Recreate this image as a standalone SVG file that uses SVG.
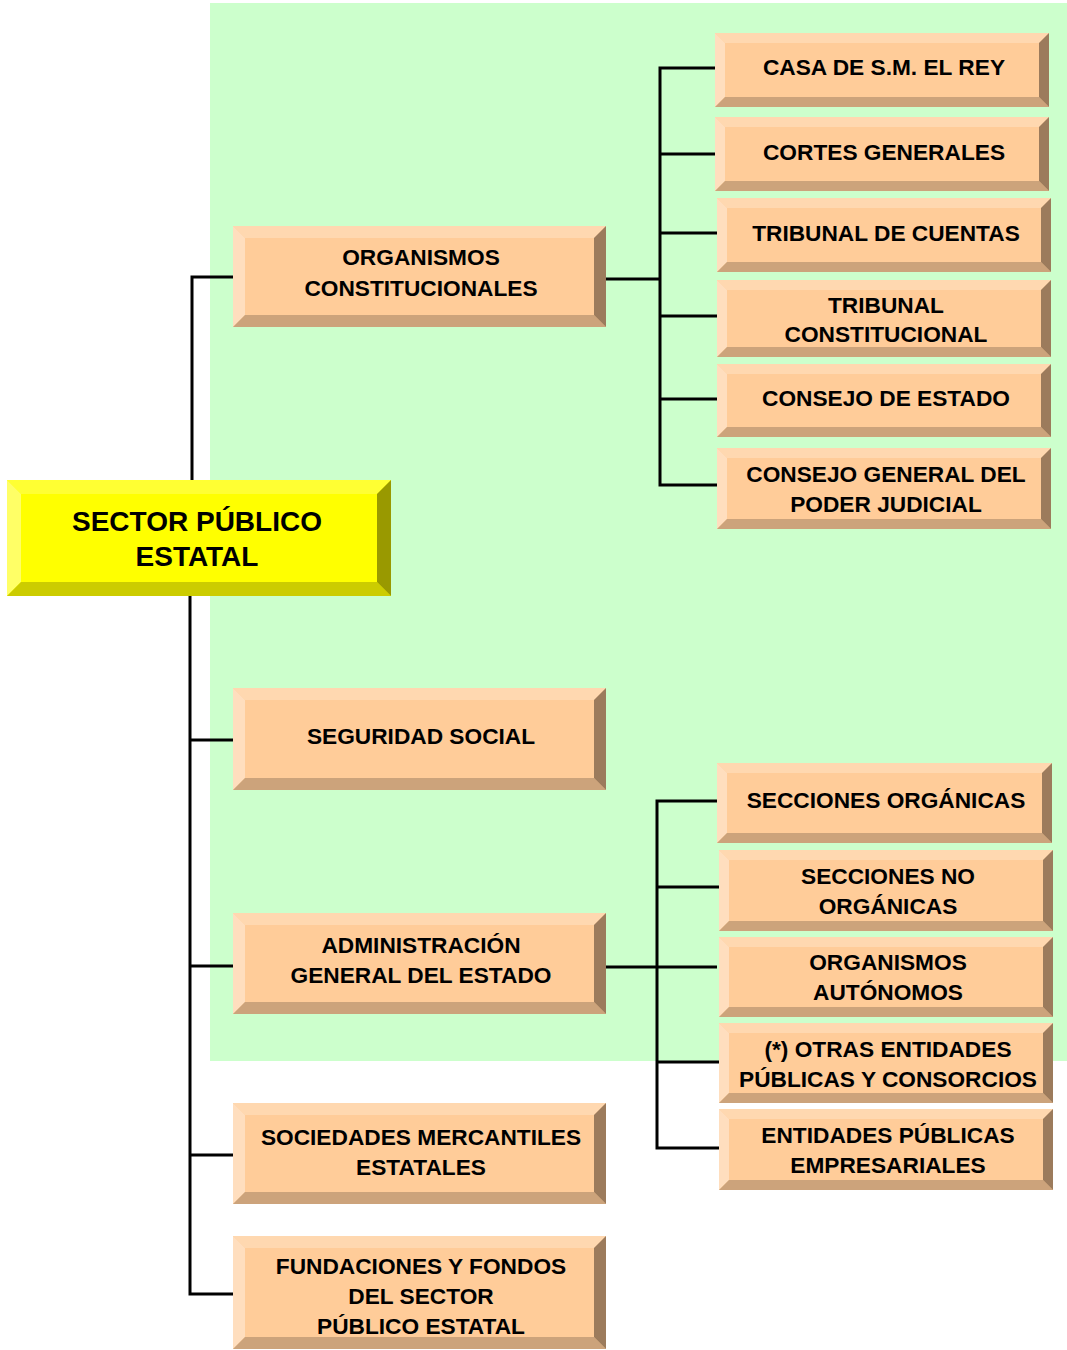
<svg xmlns="http://www.w3.org/2000/svg" width="1067" height="1350" viewBox="0 0 1067 1350">
<style>
.bg{fill:#CCFFCC}
.c{fill:none;stroke:#000;stroke-width:3;stroke-linejoin:miter}
.of{fill:#FFCC99}.ot{fill:#FFD8B0}.ol{fill:#FFDEBE}.ob{fill:#CCA37B}.or{fill:#9C7B5C}
.yf{fill:#FFFF00}.yt{fill:#FFFF33}.yl{fill:#FFFF66}.yb{fill:#CCCC00}.yr{fill:#999900}
text{font-family:"Liberation Sans",Arial,sans-serif;font-weight:bold;fill:#000;text-anchor:middle}
.s{font-size:22.7px}.m{font-size:28px}
</style>
<rect class="bg" x="210" y="3" width="857" height="1058"/>
<g id="connectors">
<path class="c" d="M233,277 H192 V480"/>
<path class="c" d="M190,596 V1294 H233"/>
<path class="c" d="M190,740 H233"/>
<path class="c" d="M190,966 H233"/>
<path class="c" d="M190,1155 H233"/>
<path class="c" d="M606,279 H660"/>
<path class="c" d="M715,68 H660 V485 H717"/>
<path class="c" d="M660,154 H715 M660,233 H717 M660,316 H717 M660,399 H717"/>
<path class="c" d="M606,967 H717"/>
<path class="c" d="M717,801 H657 V1148 H719"/>
<path class="c" d="M657,887 H719 M657,1062 H719"/>
</g>
<g id="main">
<rect class="yf" x="7" y="480" width="384" height="116"/>
<polygon class="yt" points="7,480 391,480 377,494 21,494"/>
<polygon class="yl" points="7,480 21,494 21,582 7,596"/>
<polygon class="yb" points="7,596 21,582 377,582 391,596"/>
<polygon class="yr" points="391,480 391,596 377,582 377,494"/>
<text class="m" x="197" y="531">SECTOR PÚBLICO</text>
<text class="m" x="197" y="566">ESTATAL</text>
</g>
<g id="organismos-constitucionales">
<rect class="of" x="233" y="226" width="373" height="101"/>
<polygon class="ot" points="233,226 606,226 594,238 245,238"/>
<polygon class="ol" points="233,226 245,238 245,315 233,327"/>
<polygon class="ob" points="233,327 245,315 594,315 606,327"/>
<polygon class="or" points="606,226 606,327 594,315 594,238"/>
<text class="s" x="421" y="265">ORGANISMOS</text>
<text class="s" x="421" y="296">CONSTITUCIONALES</text>
</g>
<g id="seguridad-social">
<rect class="of" x="233" y="688" width="373" height="102"/>
<polygon class="ot" points="233,688 606,688 594,700 245,700"/>
<polygon class="ol" points="233,688 245,700 245,778 233,790"/>
<polygon class="ob" points="233,790 245,778 594,778 606,790"/>
<polygon class="or" points="606,688 606,790 594,778 594,700"/>
<text class="s" x="421" y="744">SEGURIDAD SOCIAL</text>
</g>
<g id="administracion">
<rect class="of" x="233" y="913" width="373" height="101"/>
<polygon class="ot" points="233,913 606,913 594,925 245,925"/>
<polygon class="ol" points="233,913 245,925 245,1002 233,1014"/>
<polygon class="ob" points="233,1014 245,1002 594,1002 606,1014"/>
<polygon class="or" points="606,913 606,1014 594,1002 594,925"/>
<text class="s" x="421" y="953">ADMINISTRACIÓN</text>
<text class="s" x="421" y="983">GENERAL DEL ESTADO</text>
</g>
<g id="sociedades">
<rect class="of" x="233" y="1103" width="373" height="101"/>
<polygon class="ot" points="233,1103 606,1103 594,1115 245,1115"/>
<polygon class="ol" points="233,1103 245,1115 245,1192 233,1204"/>
<polygon class="ob" points="233,1204 245,1192 594,1192 606,1204"/>
<polygon class="or" points="606,1103 606,1204 594,1192 594,1115"/>
<text class="s" x="421" y="1145">SOCIEDADES MERCANTILES</text>
<text class="s" x="421" y="1175">ESTATALES</text>
</g>
<g id="fundaciones">
<rect class="of" x="233" y="1236" width="373" height="113"/>
<polygon class="ot" points="233,1236 606,1236 594,1248 245,1248"/>
<polygon class="ol" points="233,1236 245,1248 245,1337 233,1349"/>
<polygon class="ob" points="233,1349 245,1337 594,1337 606,1349"/>
<polygon class="or" points="606,1236 606,1349 594,1337 594,1248"/>
<text class="s" x="421" y="1274">FUNDACIONES Y FONDOS</text>
<text class="s" x="421" y="1304">DEL SECTOR</text>
<text class="s" x="421" y="1334">PÚBLICO ESTATAL</text>
</g>
<g id="casa-rey">
<rect class="of" x="715" y="33" width="334" height="74"/>
<polygon class="ot" points="715,33 1049,33 1039,43 725,43"/>
<polygon class="ol" points="715,33 725,43 725,97 715,107"/>
<polygon class="ob" points="715,107 725,97 1039,97 1049,107"/>
<polygon class="or" points="1049,33 1049,107 1039,97 1039,43"/>
<text class="s" x="884" y="75">CASA DE S.M. EL REY</text>
</g>
<g id="cortes-generales">
<rect class="of" x="715" y="117" width="334" height="74"/>
<polygon class="ot" points="715,117 1049,117 1039,127 725,127"/>
<polygon class="ol" points="715,117 725,127 725,181 715,191"/>
<polygon class="ob" points="715,191 725,181 1039,181 1049,191"/>
<polygon class="or" points="1049,117 1049,191 1039,181 1039,127"/>
<text class="s" x="884" y="160">CORTES GENERALES</text>
</g>
<g id="tribunal-cuentas">
<rect class="of" x="717" y="198" width="334" height="74"/>
<polygon class="ot" points="717,198 1051,198 1041,208 727,208"/>
<polygon class="ol" points="717,198 727,208 727,262 717,272"/>
<polygon class="ob" points="717,272 727,262 1041,262 1051,272"/>
<polygon class="or" points="1051,198 1051,272 1041,262 1041,208"/>
<text class="s" x="886" y="241">TRIBUNAL DE CUENTAS</text>
</g>
<g id="tribunal-constitucional">
<rect class="of" x="717" y="280" width="334" height="77"/>
<polygon class="ot" points="717,280 1051,280 1041,290 727,290"/>
<polygon class="ol" points="717,280 727,290 727,347 717,357"/>
<polygon class="ob" points="717,357 727,347 1041,347 1051,357"/>
<polygon class="or" points="1051,280 1051,357 1041,347 1041,290"/>
<text class="s" x="886" y="313">TRIBUNAL</text>
<text class="s" x="886" y="342">CONSTITUCIONAL</text>
</g>
<g id="consejo-estado">
<rect class="of" x="717" y="364" width="334" height="73"/>
<polygon class="ot" points="717,364 1051,364 1041,374 727,374"/>
<polygon class="ol" points="717,364 727,374 727,427 717,437"/>
<polygon class="ob" points="717,437 727,427 1041,427 1051,437"/>
<polygon class="or" points="1051,364 1051,437 1041,427 1041,374"/>
<text class="s" x="886" y="406">CONSEJO DE ESTADO</text>
</g>
<g id="cgpj">
<rect class="of" x="717" y="448" width="334" height="81"/>
<polygon class="ot" points="717,448 1051,448 1041,458 727,458"/>
<polygon class="ol" points="717,448 727,458 727,519 717,529"/>
<polygon class="ob" points="717,529 727,519 1041,519 1051,529"/>
<polygon class="or" points="1051,448 1051,529 1041,519 1041,458"/>
<text class="s" x="886" y="482">CONSEJO GENERAL DEL</text>
<text class="s" x="886" y="512">PODER JUDICIAL</text>
</g>
<g id="secciones-organicas">
<rect class="of" x="717" y="763" width="335" height="80"/>
<polygon class="ot" points="717,763 1052,763 1042,773 727,773"/>
<polygon class="ol" points="717,763 727,773 727,833 717,843"/>
<polygon class="ob" points="717,843 727,833 1042,833 1052,843"/>
<polygon class="or" points="1052,763 1052,843 1042,833 1042,773"/>
<text class="s" x="886" y="808">SECCIONES ORGÁNICAS</text>
</g>
<g id="secciones-no-organicas">
<rect class="of" x="719" y="850" width="334" height="81"/>
<polygon class="ot" points="719,850 1053,850 1043,860 729,860"/>
<polygon class="ol" points="719,850 729,860 729,921 719,931"/>
<polygon class="ob" points="719,931 729,921 1043,921 1053,931"/>
<polygon class="or" points="1053,850 1053,931 1043,921 1043,860"/>
<text class="s" x="888" y="884">SECCIONES NO</text>
<text class="s" x="888" y="914">ORGÁNICAS</text>
</g>
<g id="organismos-autonomos">
<rect class="of" x="719" y="937" width="334" height="80"/>
<polygon class="ot" points="719,937 1053,937 1043,947 729,947"/>
<polygon class="ol" points="719,937 729,947 729,1007 719,1017"/>
<polygon class="ob" points="719,1017 729,1007 1043,1007 1053,1017"/>
<polygon class="or" points="1053,937 1053,1017 1043,1007 1043,947"/>
<text class="s" x="888" y="970">ORGANISMOS</text>
<text class="s" x="888" y="1000">AUTÓNOMOS</text>
</g>
<g id="otras-entidades">
<rect class="of" x="719" y="1023" width="334" height="80"/>
<polygon class="ot" points="719,1023 1053,1023 1043,1033 729,1033"/>
<polygon class="ol" points="719,1023 729,1033 729,1093 719,1103"/>
<polygon class="ob" points="719,1103 729,1093 1043,1093 1053,1103"/>
<polygon class="or" points="1053,1023 1053,1103 1043,1093 1043,1033"/>
<text class="s" x="888" y="1057">(*) OTRAS ENTIDADES</text>
<text class="s" x="888" y="1087">PÚBLICAS Y CONSORCIOS</text>
</g>
<g id="entidades-empresariales">
<rect class="of" x="719" y="1109" width="334" height="81"/>
<polygon class="ot" points="719,1109 1053,1109 1043,1119 729,1119"/>
<polygon class="ol" points="719,1109 729,1119 729,1180 719,1190"/>
<polygon class="ob" points="719,1190 729,1180 1043,1180 1053,1190"/>
<polygon class="or" points="1053,1109 1053,1190 1043,1180 1043,1119"/>
<text class="s" x="888" y="1143">ENTIDADES PÚBLICAS</text>
<text class="s" x="888" y="1173">EMPRESARIALES</text>
</g>
</svg>
